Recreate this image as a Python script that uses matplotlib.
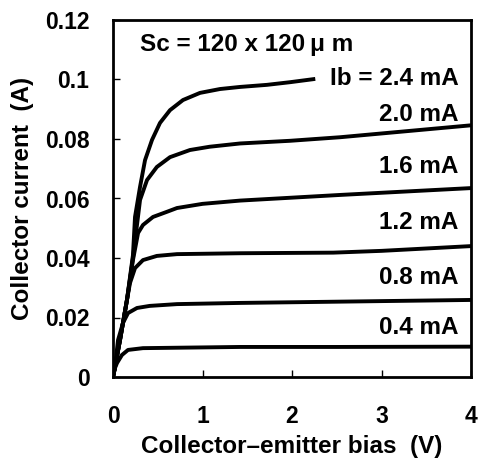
import matplotlib
matplotlib.use("Agg")
import matplotlib.pyplot as plt

plt.rcParams['font.family'] = ['Liberation Sans', 'DejaVu Sans']

# Collector-emitter bias (V) and collector current (A) for each base current
v_04 = [0, 0.022, 0.045, 0.10, 0.168, 0.335, 1.42, 2.5, 4.0]
i_04 = [0, 0.0030, 0.0047, 0.0074, 0.0091, 0.0097, 0.0101, 0.0101, 0.0102]

v_08 = [0, 0.022, 0.056, 0.112, 0.168, 0.268, 0.41, 0.715, 1.42, 2.46, 4.0]
i_08 = [0, 0.0034, 0.0124, 0.0182, 0.0215, 0.0232, 0.0239, 0.0245, 0.0249, 0.0253, 0.0259]

v_12 = [0, 0.022, 0.078, 0.156, 0.19, 0.246, 0.335, 0.49, 0.715, 1.42, 2.46, 3.0, 4.0]
i_12 = [0, 0.0034, 0.0124, 0.0259, 0.0316, 0.0366, 0.0393, 0.0407, 0.0413, 0.0416, 0.0418, 0.0424, 0.0440]

v_16 = [0, 0.022, 0.078, 0.156, 0.223, 0.28, 0.335, 0.447, 0.60, 0.715, 1.0, 1.42, 2.54, 4.0]
i_16 = [0, 0.0034, 0.0124, 0.0259, 0.0393, 0.0484, 0.0511, 0.0538, 0.0555, 0.0568, 0.0582, 0.0593, 0.0612, 0.0635]

v_20 = [0, 0.022, 0.078, 0.156, 0.223, 0.302, 0.38, 0.49, 0.637, 0.86, 1.08, 1.42, 1.98, 2.54, 4.0]
i_20 = [0, 0.0034, 0.0124, 0.0259, 0.0400, 0.0595, 0.0662, 0.0706, 0.0739, 0.0763, 0.0774, 0.0785, 0.0794, 0.0806, 0.0846]

v_24 = [0, 0.022, 0.078, 0.156, 0.223, 0.246, 0.302, 0.358, 0.436, 0.525, 0.637, 0.782, 0.972, 1.196, 1.419, 1.72, 1.98, 2.26]
i_24 = [0, 0.0034, 0.0124, 0.0259, 0.0410, 0.0538, 0.0639, 0.0729, 0.0797, 0.0854, 0.0897, 0.0931, 0.0955, 0.0968, 0.0975, 0.0982, 0.0991, 0.1002]

curve_labels = ["0.4 mA", "0.8 mA", "1.2 mA", "1.6 mA", "2.0 mA", "Ib = 2.4 mA"]
label_y = [0.0165, 0.0333, 0.0521, 0.0706, 0.0884, 0.1005]

x_ticks = [0, 1, 2, 3, 4]
y_ticks = [0, 0.02, 0.04, 0.06, 0.08, 0.1, 0.12]
y_ticklabels = ["0", "0.02", "0.04", "0.06", "0.08", "0.1", "0.12"]

fig = plt.figure(figsize=(4.78, 4.61), dpi=100)
ax = fig.add_axes([113/478, 84/461, 358/478, 357/461])

for v, i in [(v_04, i_04), (v_08, i_08), (v_12, i_12), (v_16, i_16), (v_20, i_20), (v_24, i_24)]:
    ax.plot(v, i, color='black', lw=2.8, solid_capstyle='butt', solid_joinstyle='round')

for lab, y in zip(curve_labels, label_y):
    ax.text(3.86, y, lab, ha='right', va='center', fontsize=17.5, fontweight='bold')

ax.text(0.30, 0.1119, "Sc = 120 x 120\u2009\u03bc m", ha='left', va='center', fontsize=17.5, fontweight='bold')

ax.set_xlim(0, 4)
ax.set_ylim(0, 0.12)
ax.set_xticks(x_ticks)
ax.set_xticklabels([str(t) for t in x_ticks])
ax.set_yticks(y_ticks)
ax.set_yticklabels(y_ticklabels)
ax.tick_params(direction='in', length=5, width=1, labelsize=16.5, top=False, right=False)
ax.tick_params(axis='x', pad=20)
ax.tick_params(axis='y', pad=17)
for lab in ax.get_xticklabels() + ax.get_yticklabels():
    lab.set_fontweight('bold')
for s in ax.spines.values():
    s.set_linewidth(2.0)

ax.set_xlabel("Collector\u2013emitter bias  (V)", fontsize=17.5, fontweight='bold', labelpad=5)
ax.set_ylabel("Collector current  (A)", fontsize=17.5, fontweight='bold', labelpad=8)

fig.savefig("out.png", dpi=100)
